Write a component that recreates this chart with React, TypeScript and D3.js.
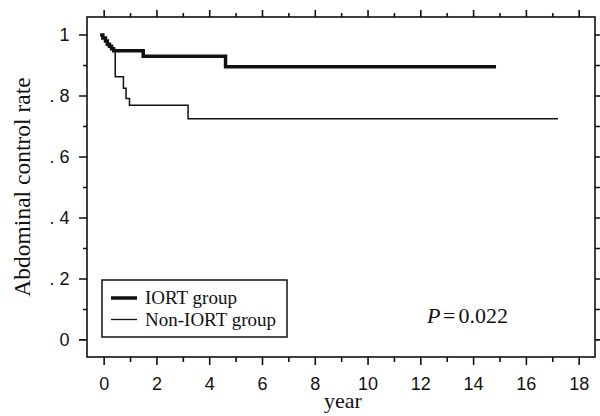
import React from "react";
import * as d3 from "d3";

// Kaplan-Meier steps (years, rate)
const iortYears = [-0.15, -0.05, 0.05, 0.12, 0.2, 0.28, 0.36, 1.48, 4.6, 14.85];
const iortRates = [1, 0.99, 0.98, 0.97, 0.963, 0.955, 0.948, 0.93, 0.896, 0.896];

const nonIortYears = [-0.15, -0.05, 0.05, 0.12, 0.2, 0.28, 0.36, 0.42, 0.73, 0.83, 0.96, 3.18, 17.2];
const nonIortRates = [1, 0.99, 0.98, 0.97, 0.963, 0.955, 0.948, 0.863, 0.825, 0.792, 0.77, 0.725, 0.725];

const groupNames = ["IORT group", "Non-IORT group"];

const yearTicks = [0, 2, 4, 6, 8, 10, 12, 14, 16, 18];
const yearMinorTicks = [1, 3, 5, 7, 9, 11, 13, 15, 17];
const rateTicks = [0, 0.2, 0.4, 0.6, 0.8, 1];
const rateTickLabels = ["0", ". 2", ". 4", ". 6", ". 8", "1"];
const rateMinorTicks = [0.1, 0.3, 0.5, 0.7, 0.9];
const rateRightTicks = [0, 0.1, 0.2, 0.3, 0.4, 0.5, 0.6, 0.7, 0.8, 0.9, 1];

const W = 600;
const H = 416;
const left = 87;
const right = 595;
const top = 17;
const bottom = 357;

const ink = "#111";
const serif = "'Liberation Serif', 'Times New Roman', serif";
const sans = "'Liberation Sans', Arial, sans-serif";

const App = () => {
  const x = d3.scaleLinear().domain([-0.65, 18.6]).range([left, right]);
  const y = d3.scaleLinear().domain([-0.056, 1.059]).range([bottom, top]);

  const iortPath = d3
    .line<number>()
    .x((d) => x(d))
    .y((d, i) => y(iortRates[i]))
    .curve(d3.curveStepAfter)(iortYears);
  const nonIortPath = d3
    .line<number>()
    .x((d) => x(d))
    .y((d, i) => y(nonIortRates[i]))
    .curve(d3.curveStepAfter)(nonIortYears);

  // all tick marks as one path
  const p = d3.path();
  const vt = (vals: number[], y0: number, len: number) =>
    vals.forEach((v) => {
      p.moveTo(x(v), y0);
      p.lineTo(x(v), y0 + len);
    });
  const ht = (vals: number[], x0: number, len: number) =>
    vals.forEach((v) => {
      p.moveTo(x0, y(v));
      p.lineTo(x0 + len, y(v));
    });
  vt(yearTicks, bottom, 8);
  vt(yearMinorTicks, bottom, 5);
  vt(yearTicks, top, -7);
  vt(yearMinorTicks, top, -4);
  ht(rateTicks, left, -8);
  ht(rateMinorTicks, left, -4);
  ht(rateRightTicks, right, 5);

  return (
    <svg width={W} height={H} style={{ position: "absolute", left: 0, top: 0, background: "#fff" }}>
      <path d={p.toString()} fill="none" stroke={ink} strokeWidth={1.6} />
      <g fontFamily={sans} fontSize={18} fill={ink}>
        {yearTicks.map((v) => (
          <text key={"bl" + v} x={x(v)} y={bottom + 20} dy="0.71em" textAnchor="middle">
            {v}
          </text>
        ))}
        {rateTicks.map((v, i) => (
          <text key={"ll" + v} x={left - 17.5} y={y(v)} dy="0.34em" textAnchor="end">
            {rateTickLabels[i]}
          </text>
        ))}
      </g>

      <rect x={left} y={top} width={right - left} height={bottom - top} fill="none" stroke={ink} strokeWidth={1.6} />
      <path d={nonIortPath || ""} fill="none" stroke={ink} strokeWidth={1.5} />
      <path d={iortPath || ""} fill="none" stroke={ink} strokeWidth={3.5} />

      {/* legend */}
      <rect x={102} y={280} width={185} height={57} fill="#fff" stroke={ink} strokeWidth={1.5} />
      <line x1={111} x2={137} y1={298} y2={298} stroke={ink} strokeWidth={3.5} />
      <line x1={111} x2={137} y1={319.5} y2={319.5} stroke={ink} strokeWidth={1.3} />
      <text x={145} y={304} fontFamily={serif} fontSize={19} fill={ink}>
        {groupNames[0]}
      </text>
      <text x={145} y={326} fontFamily={serif} fontSize={19} fill={ink}>
        {groupNames[1]}
      </text>

      <text x={427} y={323} fontFamily={serif} fontSize={22} fill={ink}>
        <tspan fontStyle="italic">P</tspan>
        <tspan dx={2.5}>=</tspan>
        <tspan dx={3}>0.022</tspan>
      </text>

      <text x={343} y={408} textAnchor="middle" fontFamily={serif} fontSize={22} fill={ink}>
        year
      </text>
      <text
        transform={`translate(30,${(top + bottom) / 2}) rotate(-90)`}
        textAnchor="middle"
        fontFamily={serif}
        fontSize={23.5}
        fill={ink}
      >
        Abdominal control rate
      </text>
    </svg>
  );
};

export default App;
